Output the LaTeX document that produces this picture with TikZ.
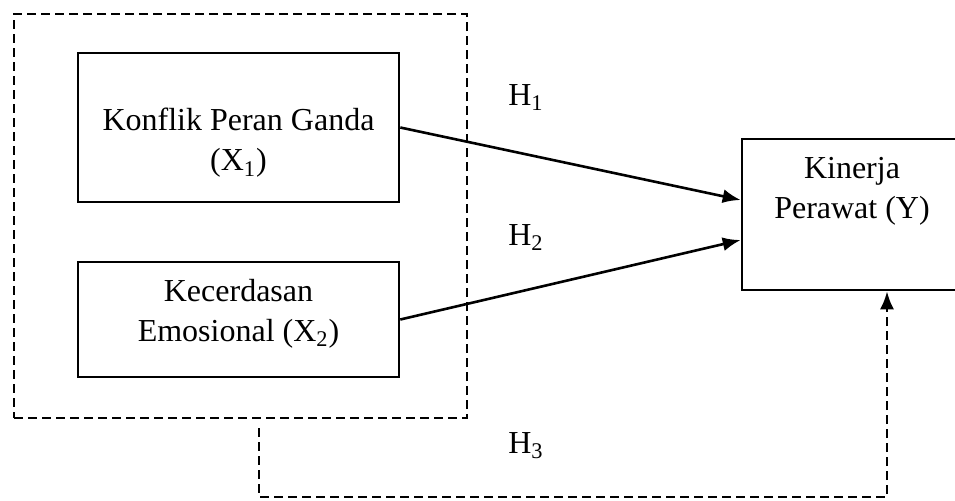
\documentclass[tikz,border=0pt]{standalone}
\usepackage{fontspec}
\setmainfont{Liberation Serif}
\usetikzlibrary{arrows.meta,calc}
\begin{document}
\begin{tikzpicture}[x=0.5pt,y=-0.5pt,line width=1.3pt,
    font=\fontsize{16}{20}\selectfont,
    >={Latex[length=9pt,width=7pt]}]
  \useasboundingbox (0,0) rectangle (955,500);

  \begin{scope}[every node/.style={draw, inner sep=0pt}]
    \node[dash pattern=on 4.5pt off 2.5pt, minimum width=226.5pt, minimum height=202pt] (grp) at (240.5,216) {};
    \node[minimum width=160.5pt, minimum height=74.5pt] (x1) at (238.5,127.5) {};
    \node[minimum width=160.5pt, minimum height=57.5pt] (x2) at (238.5,319.5) {};
    \node[minimum width=109pt, minimum height=75.5pt] (y) at (851,214.5) {};
  \end{scope}

  \begin{scope}[every node/.style={align=center}]
    \node (t1) at (238.5,143) {Konflik Peran Ganda\\(X\textsubscript{1})};
    \node (t2) at (238.5,314) {Kecerdasan\\Emosional (X\textsubscript{2})};
    \node (t3) at (852,191) {Kinerja\\Perawat (Y)};
  \end{scope}

  \begin{scope}[every node/.style={anchor=base west, inner sep=0pt}]
    \node (h1) at (507,105) {H\textsubscript{1}};
    \node (h2) at (507,245) {H\textsubscript{2}};
    \node (h3) at (507,453) {H\textsubscript{3}};
  \end{scope}

  \coordinate (yin1) at ($(y.west)+(0,-14.5)$);
  \coordinate (yin2) at ($(y.west)+(0,25.5)$);
  \coordinate (h3a) at (259,428);
  \coordinate (h3b) at (887,497);

  \draw[->] (x1.east) -- (yin1);
  \draw[->] (x2.east) -- (yin2);
  \draw[->, dash pattern=on 4.5pt off 2.5pt] (h3a) |- (h3b) -- (h3b |- y.south);

\end{tikzpicture}
\end{document}
